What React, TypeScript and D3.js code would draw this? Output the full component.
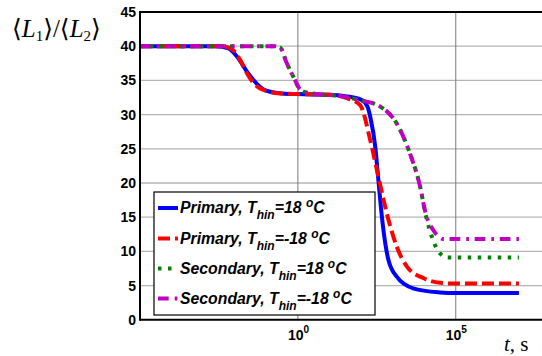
import React from 'react';
import * as d3 from 'd3';

// ---- data (log10 of t in seconds, and <L1>/<L2>) ----
const yTicks = [0, 5, 10, 15, 20, 25, 30, 35, 40, 45];
const xTickExps = [0, 5];

const logTPrimaryWarm = [-5, -2.6, -2.2, -1.9, -1.6, -1.3, -1.0, -0.5, 0, 1.0, 1.5, 2.0, 2.2, 2.3, 2.45, 2.55, 2.65, 2.71, 2.87, 3.13, 3.65, 4.5, 5, 7];
const primaryWarm = [40, 40, 39.7, 38.3, 36.2, 34.5, 33.5, 33.1, 33.0, 32.9, 32.7, 32.2, 31.2, 29.5, 25.3, 20.4, 15.5, 13.1, 8.7, 6.3, 4.6, 4.0, 3.9, 3.9];

const logTPrimaryCold = [-5, -2.4, -2.1, -1.83, -1.61, -1.4, -1.09, -0.56, 0, 1.0, 1.55, 1.97, 2.29, 2.55, 2.87, 3.13, 3.45, 3.97, 4.5, 5, 7];
const primaryCold = [40, 40, 39.6, 38, 36, 34.6, 33.6, 33.1, 33.0, 32.9, 32.4, 31.4, 26.3, 20.9, 14.6, 10.7, 7.8, 6.1, 5.4, 5.3, 5.3];

const logTSecondaryWarm = [-5, -0.75, -0.56, -0.35, -0.14, 0.07, 0.3, 0.6, 1.34, 1.97, 2.6, 3.13, 3.55, 3.87, 4.05, 4.19, 4.5, 4.75, 7];
const secondaryWarm = [40, 40, 39.8, 37.5, 35.5, 33.7, 33.2, 33.0, 32.7, 32.1, 31.2, 28.7, 24.3, 19.5, 15.3, 12.9, 9.7, 9.1, 9.1];

const logTSecondaryCold = [-5, -0.75, -0.56, -0.35, -0.14, 0.07, 0.3, 0.6, 1.34, 1.97, 2.6, 3.13, 3.55, 3.87, 4.05, 4.29, 4.45, 4.6, 7];
const secondaryCold = [40, 40, 39.8, 37.5, 35.5, 33.7, 33.2, 33.0, 32.7, 32.1, 31.2, 28.7, 24.3, 19.5, 15.5, 13.1, 12.2, 11.8, 11.8];

const seriesNames = ['Primary, T', 'Primary, T', 'Secondary, T', 'Secondary, T'];
const seriesTemps = ['=18 ', '=-18 ', '=18 ', '=-18 '];

const series = [
  { name: seriesNames[0], temp: seriesTemps[0], x: logTPrimaryWarm, y: primaryWarm, color: '#0000ff', dash: '' },
  { name: seriesNames[1], temp: seriesTemps[1], x: logTPrimaryCold, y: primaryCold, color: '#ff0000', dash: '12,5' },
  { name: seriesNames[2], temp: seriesTemps[2], x: logTSecondaryWarm, y: secondaryWarm, color: '#007f00', dash: '3.5,6.5' },
  { name: seriesNames[3], temp: seriesTemps[3], x: logTSecondaryCold, y: secondaryCold, color: '#bf00bf', dash: '10.7,6,2.7,5.7' },
];

const W = 542, H = 356;
const left = 140, top = 12, right = 550.5, bottom = 319.8;

export default function App() {
  const x = d3.scaleLog().domain([1e-5, 1e8]).range([left, right]);
  const y = d3.scaleLinear().domain([0, 45]).range([bottom, top]);
  const line = d3.line<[number, number]>()
    .x(d => x(Math.pow(10, d[0])))
    .y(d => y(d[1]))
    .curve(d3.curveMonotoneX);

  const sans = 'Liberation Sans, Arial, sans-serif';
  const serif = 'Liberation Serif, Times New Roman, DejaVu Serif, serif';

  const legX = 154, legY = 192, legW = 221, legH = 123;
  const rowY = [208, 238.5, 268.5, 298.5];

  return (
    <svg width={W} height={H} style={{ position: 'absolute', left: 0, top: 0, background: '#fff' }}>
      <defs>
        <clipPath id="plotclip">
          <rect x={left} y={top} width={right - left} height={bottom - top} />
        </clipPath>
      </defs>
      <rect x={0} y={0} width={W} height={H} fill="#fff" />
      {/* horizontal grid */}
      {yTicks.slice(1, -1).map(t => (
        <line key={'h' + t} x1={left} x2={W} y1={y(t)} y2={y(t)} stroke="#b4b4b4" strokeWidth={1.3} />
      ))}
      {/* vertical grid */}
      {xTickExps.map(e => (
        <line key={'v' + e} x1={x(Math.pow(10, e))} x2={x(Math.pow(10, e))} y1={top} y2={bottom} stroke="#7a7a7a" strokeWidth={1} />
      ))}
      {/* curves */}
      <g clipPath="url(#plotclip)">
        {series.map((s, i) => (
          <path key={i} d={line(s.x.map((v, j) => [v, s.y[j]] as [number, number])) || ''}
            fill="none" stroke={s.color} strokeWidth={4} strokeDasharray={s.dash} strokeLinejoin="round" />
        ))}
      </g>
      {/* axes frame */}
      <line x1={left} x2={W} y1={top} y2={top} stroke="#000" strokeWidth={2} />
      <line x1={left} x2={W} y1={bottom} y2={bottom} stroke="#000" strokeWidth={2} />
      <line x1={left} x2={left} y1={top - 1} y2={bottom + 1} stroke="#000" strokeWidth={2} />
      {/* y tick labels */}
      {yTicks.map(t => (
        <text key={'yl' + t} x={136} y={y(t) + 5} textAnchor="end" fontFamily={sans} fontWeight="bold" fontSize={14} fill="#000">{t}</text>
      ))}
      {/* x tick labels */}
      {xTickExps.map(e => (
        <text key={'xl' + e} x={x(Math.pow(10, e)) - 10} y={340} fontFamily={sans} fontWeight="bold" fontSize={14} fill="#000">
          10<tspan dy={-7} fontSize={10}>{e}</tspan>
        </text>
      ))}
      {/* axis titles */}
      <text x={504} y={351} fontFamily={serif} fontSize={21} fill="#000">
        <tspan fontStyle="italic">t</tspan>,  s
      </text>
      <text x={12} y={37} fontFamily={serif} fontSize={25} fill="#000">
        ⟨<tspan fontStyle="italic">L</tspan><tspan dy={4} fontSize={15}>1</tspan><tspan dy={-4}>⟩/⟨</tspan><tspan fontStyle="italic">L</tspan><tspan dy={4} fontSize={15}>2</tspan><tspan dy={-4}>⟩</tspan>
      </text>
      {/* legend */}
      <rect x={legX} y={legY} width={legW} height={legH} fill="#fff" stroke="#000" strokeWidth={1.2} />
      {series.map((s, i) => (
        <g key={'lg' + i}>
          <line x1={158} x2={178} y1={rowY[i]} y2={rowY[i]} stroke={s.color} strokeWidth={4} strokeDasharray={s.dash} />
          <text x={180} y={rowY[i] + 5} fontFamily={sans} fontWeight="bold" fontStyle="italic" fontSize={15.8} fill="#000">
            {s.name}<tspan dy={6} fontSize={12}>hin</tspan><tspan dy={-6}>{s.temp}</tspan><tspan dy={-6} fontSize={12}>o</tspan><tspan dy={6}>C</tspan>
          </text>
        </g>
      ))}
    </svg>
  );
}
